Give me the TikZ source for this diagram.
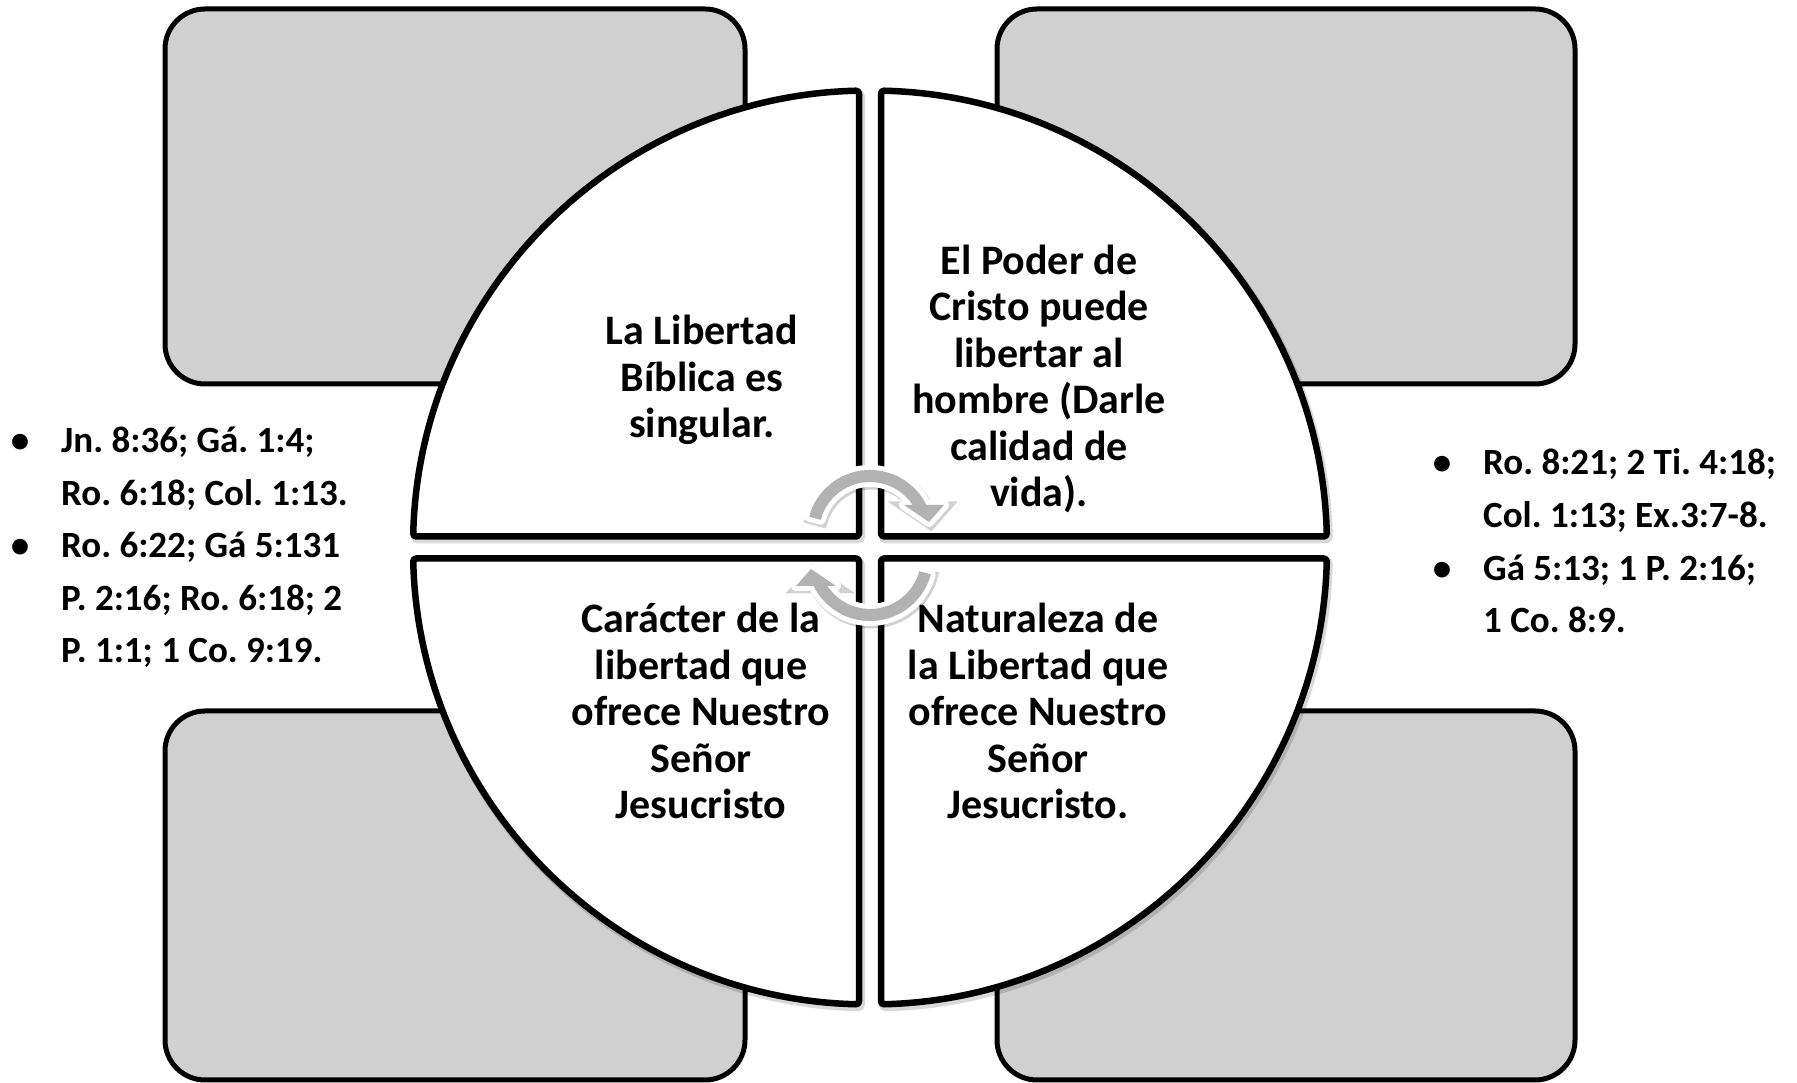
\documentclass[tikz,border=0pt]{standalone}
\usepackage{fontspec}
\setmainfont{Carlito}
\frenchspacing
\definecolor{boxgray}{RGB}{208,208,208}
\definecolor{arrgray}{RGB}{178,178,178}
\begin{document}
\begin{tikzpicture}[x=1pt,y=1pt,
  gbox/.style={draw=black, line width=5pt, fill=boxgray, rounded corners=40pt},
  quad/.style={fill=white, draw=black, line width=6.5pt, rounded corners=3pt, line join=round,
    preaction={draw=black, draw opacity=0.15, line width=8pt, transform canvas={shift={(2pt,-3pt)}}}},
  qtext/.style={font=\fontsize{42}{46.5}\selectfont\bfseries\frenchspacing, align=center, inner sep=0pt, anchor=base},
  ltext/.style={font=\fontsize{37}{52.5}\selectfont\bfseries\frenchspacing, align=left, inner sep=0pt, anchor=base west},
  bul/.style={font=\fontsize{37}{52.5}\selectfont\bfseries, inner sep=0pt, anchor=base},
  arr/.style={fill=arrgray, line join=round,
    preaction={draw=black, draw opacity=0.18, line width=11pt, transform canvas={shift={(1.5pt,-2pt)}}},
    preaction={draw=white, line width=10pt, line join=round}}
]
\useasboundingbox[fill=white] (0,0) rectangle (1797,1083);

% grey boxes
\path[gbox] (165,699) rectangle (745,1074);
\path[gbox] (997,699) rectangle (1575,1074);
\path[gbox] (165,3) rectangle (745,372);
\path[gbox] (997,3) rectangle (1575,372);

% circle quadrants
\draw[quad] (870,535.5) ++(91.38:457) arc[start angle=91.38, end angle=178.62, radius=457] -- (859,546.5) -- cycle;
\draw[quad] (870,535.5) ++(1.38:457) arc[start angle=1.38, end angle=88.62, radius=457] -- (881,546.5) -- cycle;
\draw[quad] (870,535.5) ++(181.38:457) arc[start angle=181.38, end angle=268.62, radius=457] -- (859,524.5) -- cycle;
\draw[quad] (870,535.5) ++(271.38:457) arc[start angle=271.38, end angle=358.62, radius=457] -- (881,524.5) -- cycle;

% quadrant texts (anchor = baseline of last line)
\node[qtext] (tl) at (702,645) {La Libertad\\Bíblica es\\singular.};
\node[qtext] (tr) at (1039,576) {El Poder de\\Cristo puede\\libertar al\\hombre (Darle\\calidad de\\vida).};
\node[qtext] (bl) at (701,264) {Carácter de la\\libertad que\\ofrece Nuestro\\Señor\\Jesucristo};
\node[qtext] (br) at (1038,264) {Naturaleza de\\la Libertad que\\ofrece Nuestro\\Señor\\Jesucristo.};

% side lists
\node[bul] (lb1) at (20,630) {\textbullet};
\node[ltext] (l1) at (61,577.5) {Jn. 8:36; Gá. 1:4;\\Ro. 6:18; Col. 1:13.};
\node[bul] (lb2) at (20,525) {\textbullet};
\node[ltext] (l2) at (61,420) {Ro. 6:22; Gá 5:131\\P. 2:16; Ro. 6:18; 2\\P. 1:1; 1 Co. 9:19.};

\node[bul] (rb1) at (1442,608) {\textbullet};
\node[ltext] (r1) at (1483,555.5) {Ro. 8:21; 2 Ti. 4:18;\\Col. 1:13; Ex.3:7-8.};
\node[bul] (rb2) at (1442,502.5) {\textbullet};
\node[ltext] (r2) at (1483,450) {Gá 5:13; 1 P. 2:16;\\1 Co. 8:9.};

% circular arrows
\path[arr] (870,550) ++(165:63) arc[start angle=165, end angle=26.4, radius=63]
  -- (944,578) -- (929,561) -- (904,578) -- (912.6,578)
  arc[start angle=33.3, end angle=165, radius=51] -- cycle;
\begin{scope}[rotate around={180:(870,537.5)}]
\path[arr] (870,550) ++(165:63) arc[start angle=165, end angle=26.4, radius=63]
  -- (944,578) -- (929,561) -- (904,578) -- (912.6,578)
  arc[start angle=33.3, end angle=165, radius=51] -- cycle;
\end{scope}
\end{tikzpicture}
\end{document}
